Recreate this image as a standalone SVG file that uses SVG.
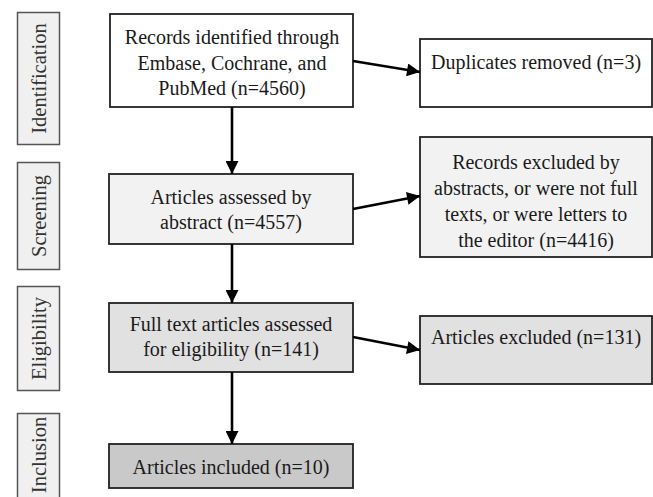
<svg xmlns="http://www.w3.org/2000/svg" width="653" height="497" viewBox="0 0 653 497">
<style>
text{font-family:'Liberation Serif','DejaVu Serif',serif;font-size:20px;fill:#1a1a1a;text-anchor:middle}
.side rect{fill:#f0f0f0;stroke:#555;stroke-width:1.5}
.side text{font-size:20.5px;fill:#333}
.box{stroke:#222;stroke-width:1.8}
.conn line{stroke:#000;stroke-width:2.6}
</style>
<defs>
<marker id="ah" viewBox="0 0 10 10" refX="10" refY="5" markerWidth="6.5" markerHeight="5" markerUnits="strokeWidth" orient="auto">
<path d="M0,0 L10,5 L0,10 z" fill="#000"/>
</marker>
</defs>
<rect width="653" height="497" fill="#fff"/>
<g font-family="Liberation Serif, DejaVu Serif, serif">
<g id="stage-identification" class="side"><rect x="17.5" y="12.5" width="42" height="132"/><text transform="translate(45.5,78.5) rotate(-90)">Identification</text></g>
<g id="stage-screening" class="side"><rect x="17.5" y="162.5" width="42" height="107"/><text transform="translate(45.5,216) rotate(-90)">Screening</text></g>
<g id="stage-eligibility" class="side"><rect x="17.5" y="286.5" width="42" height="104"/><text transform="translate(45.5,338.5) rotate(-90)">Eligibility</text></g>
<g id="stage-inclusion" class="side"><rect x="17.5" y="413.5" width="42" height="90"/><text transform="translate(45.5,455) rotate(-90)">Inclusion</text></g>

<g id="records-identified"><rect class="box" x="110" y="14" width="243" height="93" fill="#fff"/>
<text x="232" y="44">Records identified through</text><text x="232" y="70">Embase, Cochrane, and</text><text x="232" y="95">PubMed (n=4560)</text></g>
<g id="duplicates"><rect class="box" x="420" y="39" width="232" height="68" fill="#fff"/>
<text x="536" y="69">Duplicates removed (n=3)</text></g>
<g id="screened"><rect class="box" x="109" y="174" width="244" height="70" fill="#f2f2f2"/>
<text x="231" y="204">Articles assessed by</text><text x="231" y="229">abstract (n=4557)</text></g>
<g id="excluded-abstract"><rect class="box" x="420" y="137" width="232" height="120" fill="#f2f2f2"/>
<text x="536" y="169">Records excluded by</text><text x="536" y="195">abstracts, or were not full</text><text x="536" y="221">texts, or were letters to</text><text x="536" y="247">the editor (n=4416)</text></g>
<g id="eligibility"><rect class="box" x="109" y="303" width="244" height="69" fill="#e1e1e1"/>
<text x="231" y="331">Full text articles assessed</text><text x="231" y="356">for eligibility (n=141)</text></g>
<g id="excluded-fulltext"><rect class="box" x="420" y="316" width="232" height="68" fill="#e1e1e1"/>
<text x="536" y="344">Articles excluded (n=131)</text></g>
<g id="included"><rect class="box" x="109" y="444" width="244" height="44" fill="#c9c9c9"/>
<text x="231" y="474">Articles included (n=10)</text></g>
</g>
<g id="connectors" class="conn">
<line x1="232" y1="107" x2="232" y2="174" marker-end="url(#ah)"/>
<line x1="232" y1="244" x2="232" y2="303" marker-end="url(#ah)"/>
<line x1="232" y1="372" x2="232" y2="444" marker-end="url(#ah)"/>
<line x1="353" y1="61" x2="420" y2="72" marker-end="url(#ah)"/>
<line x1="353" y1="209" x2="420" y2="196" marker-end="url(#ah)"/>
<line x1="353" y1="337" x2="420" y2="350" marker-end="url(#ah)"/>
</g>
</svg>
